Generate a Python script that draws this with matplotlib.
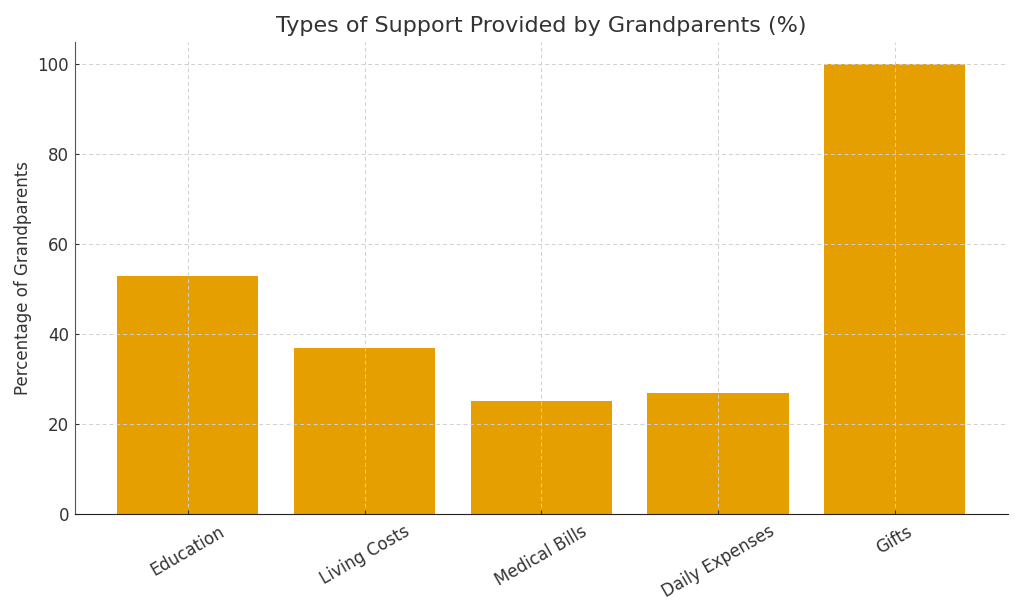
import matplotlib.pyplot as plt

plt.rcParams["font.family"] = ["DejaVu Sans"]

categories = ["Education", "Living Costs", "Medical Bills", "Daily Expenses", "Gifts"]
percentages = [53, 37, 25, 27, 100]

fig, ax = plt.subplots(figsize=(10.24, 6.14), dpi=100)
fig.subplots_adjust(left=0.073, right=0.984, top=0.932, bottom=0.163)

ax.bar(categories, percentages, width=0.8, color="#E69F00")

ax.set_title("Types of Support Provided by Grandparents (%)", fontsize=16, color="#333333", pad=7)
ax.set_ylabel("Percentage of Grandparents", fontsize=12, color="#333333")
ax.grid(True, linestyle=(0, (4, 3)), color="#d0d0d0", linewidth=0.7)

for side in ["top", "right"]:
    ax.spines[side].set_visible(False)
ax.spines["left"].set_color("#555555")
ax.spines["bottom"].set_color("#222222")

ax.tick_params(axis="both", labelsize=12, colors="#333333", direction="in", length=3, pad=4)
ax.tick_params(axis="x", pad=6)
plt.setp(ax.get_xticklabels(), rotation=30, ha="center")

fig.savefig("out.png", dpi=100)
